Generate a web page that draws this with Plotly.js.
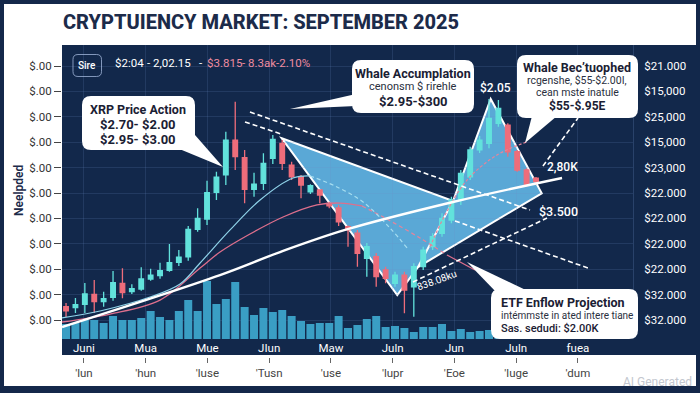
<!DOCTYPE html>
<html><head><meta charset="utf-8">
<script src="https://cdn.plot.ly/plotly-3.0.1.min.js"></script>
<style>html,body{margin:0;padding:0;background:#14284a;}#chart{width:700px;height:393px;}</style>
</head><body><div id="chart"></div>
<script>
// ---------------- DATA ----------------
const openPx  = [1.605,1.597,1.624,1.702,1.644,1.679,1.789,1.723,1.744,1.823,1.849,1.891,1.954,1.998,2.214,2.295,2.506,2.642,2.917,2.778,2.529,2.576,2.773,2.891,2.720,2.628,2.510,2.524,2.419,2.382,2.235,2.183,1.986,1.998,1.894,1.789,1.854,1.762,1.920,2.077,2.183,2.287,2.445,2.628,2.839,2.891,3.049,3.035,2.825,2.681,2.616];
const highPx  = [1.634,1.673,1.791,1.815,1.723,1.886,1.907,1.781,1.915,1.904,1.951,2.098,2.051,2.240,2.380,2.597,2.668,2.983,3.219,2.839,2.660,2.813,2.957,2.917,2.746,2.642,2.569,2.529,2.431,2.406,2.244,2.209,2.106,2.028,1.920,1.880,1.880,1.946,2.077,2.183,2.340,2.471,2.681,2.865,2.949,3.240,3.232,3.049,2.839,2.694,2.626];
const lowPx   = [1.524,1.555,1.555,1.555,1.605,1.652,1.671,1.705,1.731,1.809,1.825,1.880,1.925,1.967,2.195,2.248,2.445,2.563,2.681,2.419,2.471,2.524,2.728,2.681,2.602,2.458,2.492,2.419,2.380,2.240,2.077,1.920,1.841,1.762,1.789,1.762,1.553,1.526,1.894,2.051,2.156,2.261,2.406,2.602,2.815,2.852,3.022,2.786,2.668,2.550,2.563];
const closePx = [1.573,1.620,1.705,1.644,1.668,1.794,1.715,1.746,1.823,1.854,1.888,1.951,1.994,2.214,2.301,2.502,2.624,2.917,2.786,2.529,2.569,2.734,2.923,2.734,2.628,2.563,2.557,2.484,2.398,2.272,2.209,2.025,2.077,1.841,1.828,1.854,1.736,1.920,2.051,2.156,2.301,2.445,2.655,2.839,2.917,3.088,3.167,2.825,2.681,2.563,2.589];
const volume  = [75,80,95,95,80,115,95,95,105,140,110,95,140,195,140,290,175,200,285,160,120,155,135,145,115,90,75,80,80,115,55,70,100,115,60,65,55,35,60,60,75,40,50,35,40,45,40,50,35,45,40];

// overlay studies (x = session index, y = price)
const trendIdx = [-0.43, 16.38, 22.77, 29.68, 41.17, 52.77];
const trendVal = [1.445, 1.854, 2.035, 2.209, 2.429, 2.618];
const blueIdx = [-0.43, 3.62, 8.94, 12.13, 14.26, 17.45, 20.64, 24.15, 25.96];
const blueVal = [1.516, 1.571, 1.681, 1.783, 1.949, 2.209, 2.445, 2.618, 2.634];
const blueDashIdx = [25.96, 28.62, 31.60, 34.47, 36.28];
const blueDashVal = [2.634, 2.555, 2.429, 2.224, 2.067];
const pinkIdx = [-0.43, 4.68, 10.0, 14.26, 16.38, 19.57, 23.09, 26.70, 29.15, 31.49];
const pinkVal = [1.484, 1.547, 1.657, 1.909, 2.035, 2.177, 2.311, 2.406, 2.421, 2.398];
const pinkDashIdx = [31.49, 33.94, 37.66, 40.53];
const pinkDashVal = [2.398, 2.303, 2.146, 2.012];
const pinkTailIdx = [40.53, 43.51];
const pinkTailVal = [2.012, 1.894];
const pinkArcIdx = [38.72, 40.32, 42.66, 45.85, 49.04];
const pinkArcVal = [2.075, 2.327, 2.602, 2.799, 2.902];
const guideIdx = [19.57, 49.36, null, 19.04, 22.87, null, 41.38, 55.53, null, 36.91, 51.17, null, 50.74, 54.47];
const guideVal = [3.138, 2.366, null, 3.059, 2.965, null, 2.280, 1.909, null, 1.799, 2.303, null, 2.713, 3.091];
// harmonic pattern points A, J, Apex, R, K, B
const patternIdx = [22.95, 41.17, 45.18, 50.61, 37.45, 35.24];
const patternVal = [2.931, 2.437, 3.240, 2.498, 1.917, 1.697];

const priceTicks = [1.5,1.7,1.9,2.1,2.3,2.5,2.7,2.9,3.1,3.3,3.5];
const leftLabels = ['$.00','$.00','$.00','$.00','$.00','$.00','$.00','$.00','$.00','$.00','$.00'];
const rightLabels = ['$32.000','$32.000','$22.000','$22.000','$22.000','$22.000','$23,000','$15,000','$25,000','$15,000','$21.000'];
const monthRow1 = ['Juni','Mua','Mue','JIun','Maw','Juln','Jun','Juln','fuea'];
const monthRow2 = ["'lun","'hun","'luse","'Tusn","'use","'lupr","'Eoe","'luge","'dum"];

// ---------------- LAYOUT HELPERS ----------------
const L=62, R=633, T=45, B=357;
const px = x => (x-L)/(R-L);
const py = y => (B-y)/(B-T);
const P = (x,y) => px(x).toFixed(5)+','+py(y).toFixed(5);
function rr(x0,y0,x1,y1,r){
  return 'M'+P(x0+r,y0)+' L'+P(x1-r,y0)+' Q'+P(x1,y0)+' '+P(x1,y0+r)+' L'+P(x1,y1-r)+' Q'+P(x1,y1)+' '+P(x1-r,y1)+
    ' L'+P(x0+r,y1)+' Q'+P(x0,y1)+' '+P(x0,y1-r)+' L'+P(x0,y0+r)+' Q'+P(x0,y0)+' '+P(x0+r,y0)+' Z';
}
function tri(a,b,c){ return 'M'+P(a[0],a[1])+' L'+P(b[0],b[1])+' L'+P(c[0],c[1])+' Z'; }
const FONT='Roboto';
function txt(text,x,y,size,color,weight,extra){
  return Object.assign({xref:'paper',yref:'paper',x:px(x),y:py(y),text:text,showarrow:false,
    xanchor:'center',yanchor:'middle',font:{family:FONT,size:size,color:color,weight:weight||400}},extra||{});
}

const dayIndex = openPx.map((_,i)=>i);
const TICK0=1.9, TICK_STEP=6.57;
const tickPos = monthRow1.map((_,k)=>TICK0+TICK_STEP*k);
const priceRange=[1.3504,3.6654];
const xRange=[-0.43,60.32];

const patternPath = patternIdx.map((x,i)=>(i?'L':'M')+x+','+patternVal[i]).join(' ')+' Z';

const traces = [
  {type:'bar', x:dayIndex, y:volume, xaxis:'x', yaxis:'y', width:0.85,
   marker:{color:'#3a9ec4', line:{width:0}}, hoverinfo:'skip'},
  {type:'scatter', x:[tickPos[0]], y:[2], xaxis:'x2', yaxis:'y2', mode:'markers', marker:{opacity:0}, hoverinfo:'skip'},
  {type:'candlestick', x:dayIndex, open:openPx, high:highPx, low:lowPx, close:closePx, xaxis:'x', yaxis:'y2',
   whiskerwidth:0,
   increasing:{line:{color:'#62e2dc',width:1.3}, fillcolor:'#62e2dc'},
   decreasing:{line:{color:'#ee6d7b',width:1.3}, fillcolor:'#ee6d7b'}, hoverinfo:'skip'},
  {type:'scatter', x:pinkIdx, y:pinkVal, xaxis:'x', yaxis:'y2', mode:'lines', line:{color:'#de6f8c',width:1.3,shape:'spline'}, hoverinfo:'skip'},
  {type:'scatter', x:pinkDashIdx, y:pinkDashVal, xaxis:'x', yaxis:'y2', mode:'lines', line:{color:'#e4849c',width:1.2,shape:'spline',dash:'4px,3px'}, hoverinfo:'skip'},
  {type:'scatter', x:pinkTailIdx, y:pinkTailVal, xaxis:'x', yaxis:'y2', mode:'lines', line:{color:'#de6f8c',width:1.3}, hoverinfo:'skip'},
  {type:'scatter', x:pinkArcIdx, y:pinkArcVal, xaxis:'x', yaxis:'y2', mode:'lines', line:{color:'#e4849c',width:1.2,shape:'spline',dash:'3px,2px'}, hoverinfo:'skip'},
  {type:'scatter', x:blueIdx, y:blueVal, xaxis:'x', yaxis:'y2', mode:'lines', line:{color:'#8fd2e8',width:1.2,shape:'spline'}, hoverinfo:'skip'},
  {type:'scatter', x:blueDashIdx, y:blueDashVal, xaxis:'x', yaxis:'y2', mode:'lines', line:{color:'#a6def0',width:1.2,shape:'spline',dash:'4px,3px'}, hoverinfo:'skip'},
  {type:'scatter', x:guideIdx, y:guideVal, xaxis:'x', yaxis:'y2', mode:'lines', connectgaps:false, line:{color:'#ffffff',width:1.6,dash:'5px,3px'}, hoverinfo:'skip'},
  {type:'scatter', x:trendIdx, y:trendVal, xaxis:'x', yaxis:'y2', mode:'lines', line:{color:'#ffffff',width:2.4,shape:'spline'}, hoverinfo:'skip'},
  {type:'scatter', x:[tickPos[0]], y:[2], xaxis:'x', yaxis:'y3', mode:'markers', marker:{opacity:0}, hoverinfo:'skip'}
];

const grid='rgba(110,145,200,0.18)';
const shapes = [
  {type:'rect', xref:'paper', yref:'paper', x0:px(4), x1:px(696), y0:py(386), y1:py(4), fillcolor:'#ffffff', line:{width:0}, layer:'below'},
  {type:'rect', xref:'paper', yref:'paper', x0:px(62), x1:px(700), y0:py(355), y1:py(45), fillcolor:'#12284b', line:{width:0}, layer:'below'},
  {type:'path', xref:'x', yref:'y2', path:patternPath, fillcolor:'#5aa8d6', line:{color:'#ffffff',width:2}, layer:'below'},
  {type:'line', xref:'x', yref:'y2', x0:patternIdx[4], y0:patternVal[4], x1:patternIdx[1], y1:patternVal[1], line:{color:'#ffffff',width:2}, layer:'below'},
  // legend chip
  {type:'path', xref:'paper', yref:'paper', path:rr(73,54.5,101.5,76.5,5), fillcolor:'rgba(0,0,0,0)', line:{color:'rgba(170,190,225,0.75)',width:1}, layer:'above'},
  // callouts
  {type:'path', xref:'paper', yref:'paper', path:tri([177,148],[195,135],[223,167]), fillcolor:'#ffffff', line:{width:0}, layer:'above'},
  {type:'path', xref:'paper', yref:'paper', path:rr(82,96,195,150,9), fillcolor:'#ffffff', line:{width:0}, layer:'above'},
  {type:'path', xref:'paper', yref:'paper', path:tri([290,109],[356,94],[356,106]), fillcolor:'#ffffff', line:{width:0}, layer:'above'},
  {type:'path', xref:'paper', yref:'paper', path:rr(352,60,474,113,9), fillcolor:'#ffffff', line:{width:0}, layer:'above'},
  {type:'path', xref:'paper', yref:'paper', path:tri([525,143],[532,116],[557,116]), fillcolor:'#ffffff', line:{width:0}, layer:'above'},
  {type:'path', xref:'paper', yref:'paper', path:rr(517,55,638,118,9), fillcolor:'#ffffff', line:{width:0}, layer:'above'},
  {type:'path', xref:'paper', yref:'paper', path:tri([467,262],[497,293],[532,293]), fillcolor:'#ffffff', line:{width:0}, layer:'above'},
  {type:'path', xref:'paper', yref:'paper', path:rr(491,289,638,339,9), fillcolor:'#ffffff', line:{width:0}, layer:'above'}
];

const dark='#1a2033';
const annotations = [
  txt('Sire',87,65,10,'#ffffff',500),
  txt('$2:04',113,63,11.5,'#ffffff',400,{xanchor:'left'}),
  txt('- 2,02.15',145,63,11.5,'#ffffff',400,{xanchor:'left'}),
  txt('-',197,63,11.5,'#ffffff',400,{xanchor:'left'}),
  txt('$3.815',205,63,11.5,'#f08ca0',400,{xanchor:'left'}),
  txt('- 8.3ak-2.10%',240,63,11.5,'#f08ca0',400,{xanchor:'left'}),
  txt('Neelpded',19,191,12,'#1c2b4a',600,{textangle:-90}),
  txt('XRP Price Action',138,109,12.5,dark,700),
  txt('$2.70- $2.00',138,124,13,dark,700),
  txt('$2.95- $3.00',138,139,13,dark,700),
  txt('Whale Accumplation',413,73,12.5,dark,700),
  txt('cenonsm $ rirehle',413,86,11,'#2a3040',400),
  txt('$2.95-$300',413,101,13,dark,700),
  txt('Whale Bec’tuophed',577,67,12.5,dark,700),
  txt('rcgenshe, $55-$2.00I,',577,80.5,10.5,'#2a3040',400),
  txt('cean mste inatule',577,92.5,10.5,'#2a3040',400),
  txt('$55-$.95E',577,105.5,12,dark,700),
  txt('ETF Enflow Projection',499,302,12.5,dark,700,{xanchor:'left'}),
  txt('intémmste in ated intere tiane',499,315,10,'#2a3040',400,{xanchor:'left'}),
  txt('Sas. sedudi: $2.00K',499,328,11,dark,500,{xanchor:'left'}),
  txt('$2.05',495,88,12,'#ffffff',500),
  txt('2,80K',562,167,12,'#ffffff',500),
  txt('$3.500',558,211,12.5,'#ffffff',500),
  txt('838.08ku',436,280,10,'#ffffff',400,{textangle:-20}),
  txt('AI Generated',657,382,12,'#c3c7cf',400)
];

const layout = {
  width:700, height:393,
  margin:{l:62,r:67,t:45,b:36,pad:0},
  paper_bgcolor:'#14284a', plot_bgcolor:'rgba(0,0,0,0)',
  showlegend:false, hovermode:false, dragmode:false,
  title:{text:'CRYPTUIENCY MARKET: SEPTEMBER 2025', xref:'container', yref:'container', x:63/700, xanchor:'left',
         y:1-22/393, yanchor:'middle', font:{family:FONT, size:20, color:'#1c2b4a', weight:800}},
  xaxis:{range:xRange, anchor:'y', tickmode:'array', tickvals:tickPos, ticktext:monthRow1, ticks:'',
         tickfont:{family:FONT,size:11.5,color:'#ffffff'}, showgrid:true, gridcolor:grid, zeroline:false, showline:false,
         rangeslider:{visible:false}, fixedrange:true},
  xaxis2:{range:xRange, overlaying:'x', anchor:'free', position:0, tickmode:'array', tickvals:tickPos, ticktext:monthRow2,
         ticks:'outside', ticklen:5, tickcolor:'#666', tickfont:{family:FONT,size:11.5,color:'#444'},
         showgrid:false, zeroline:false, showline:false, fixedrange:true},
  yaxis:{domain:[(B-339)/(B-T),1], range:[0,1470], visible:false, fixedrange:true},
  yaxis2:{overlaying:'y', side:'left', range:priceRange, tickmode:'array', tickvals:priceTicks, ticktext:leftLabels,
          ticks:'outside', ticklen:7, tickcolor:'#444', tickfont:{family:FONT,size:11.5,color:'#333'},
          showgrid:true, gridcolor:grid, zeroline:false, showline:false, fixedrange:true},
  yaxis3:{overlaying:'y', side:'right', range:priceRange, tickmode:'array', tickvals:priceTicks, ticktext:rightLabels,
          ticks:'', ticklabelstandoff:8, tickfont:{family:FONT,size:11.5,color:'#ffffff'},
          showgrid:false, zeroline:false, showline:true, linecolor:'rgba(110,145,200,0.25)', fixedrange:true},
  shapes:shapes, annotations:annotations
};

Plotly.newPlot('chart', traces, layout, {displayModeBar:false, staticPlot:true});
</script></body></html>
